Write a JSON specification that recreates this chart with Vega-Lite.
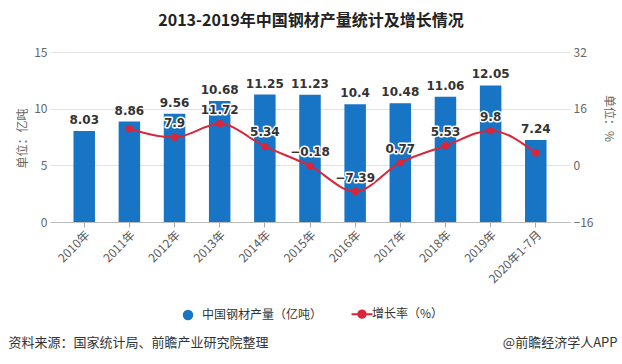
{
  "$schema": "https://vega.github.io/schema/vega-lite/v6.json",
  "width": 520,
  "height": 170,
  "autosize": "none",
  "padding": {"left": 50, "top": 52, "right": 52, "bottom": 142},
  "background": "white",
  "title": {"text": "2013-2019年中国钢材产量统计及增长情况", "fontSize": 16, "fontWeight": "bold", "font": "Noto Sans CJK SC", "color": "#222222", "anchor": "middle", "frame": "group", "offset": 17, "dx": 1},
  "data": {"values": [
    {"year": "2010年", "output": 8.03, "rate": null},
    {"year": "2011年", "output": 8.86, "rate": 10.34},
    {"year": "2012年", "output": 9.56, "rate": 7.9},
    {"year": "2013年", "output": 10.68, "rate": 11.72},
    {"year": "2014年", "output": 11.25, "rate": 5.34},
    {"year": "2015年", "output": 11.23, "rate": -0.18},
    {"year": "2016年", "output": 10.4, "rate": -7.39},
    {"year": "2017年", "output": 10.48, "rate": 0.77},
    {"year": "2018年", "output": 11.06, "rate": 5.53},
    {"year": "2019年", "output": 12.05, "rate": 9.8},
    {"year": "2020年1-7月", "output": 7.24, "rate": 3.5}
  ]},
  "layer": [
    {
      "encoding": {
        "x": {"field": "year", "type": "nominal", "sort": null,
          "scale": {"paddingInner": 0.524, "paddingOuter": 0.52},
          "axis": {"labelAngle": -45, "labelFontSize": 12, "labelColor": "#595959", "labelFont": "Noto Sans CJK SC", "ticks": true, "tickSize": 5, "tickColor": "#aaaaaa", "domainColor": "#bbbbbb", "labelPadding": 2, "grid": false,
            "title": "资料来源：国家统计局、前瞻产业研究院整理", "titleX": -42, "titleY": 120, "titleAlign": "left", "titleBaseline": "middle", "titleAngle": 0, "titleFontSize": 13, "titleFontWeight": "normal", "titleColor": "#333333", "titleFont": "Noto Sans CJK SC"}},
        "y": {"field": "output", "type": "quantitative",
          "scale": {"domain": [0, 15], "nice": false},
          "axis": {"values": [0, 5, 10, 15], "grid": true, "gridColor": "#e3e3e3", "domain": false, "ticks": false, "labelPadding": 3, "labelColor": "#666666", "labelFontSize": 12, "labelFont": "Noto Sans CJK SC",
            "title": "单位：亿吨", "titleX": -28, "titleY": 86, "titleAngle": -90, "titleAlign": "center", "titleBaseline": "middle", "titleFontSize": 12, "titleFontWeight": "normal", "titleColor": "#666666", "titleFont": "Noto Sans CJK SC"}}
      },
      "layer": [
        {
          "mark": {"type": "bar"},
          "encoding": {
            "color": {"datum": "中国钢材产量（亿吨）",
              "scale": {"domain": ["中国钢材产量（亿吨）", "增长率（%）"], "range": ["#1874C4", "#D9263A"]},
              "legend": {"orient": "none", "legendX": 132, "legendY": 256, "direction": "horizontal", "title": null, "labelFont": "Noto Sans CJK SC", "labelFontSize": 12, "labelColor": "#333333", "symbolSize": 110, "labelOffset": 8, "columnPadding": 24,
                "encode": {
                  "labels": {"update": {"dx": {"signal": "datum.value === '增长率（%）' ? -4 : 0"}}},
                  "symbols": {"update": {
                  "shape": {"signal": "datum.value === '增长率（%）' ? 'M-2,0L2,0M-0.7,0A0.7,0.7,0,1,1,0.7,0A0.7,0.7,0,1,1,-0.7,0Z' : 'circle'"},
                  "fill": {"signal": "datum.value === '增长率（%）' ? '#D9263A' : '#1874C4'"},
                  "stroke": {"signal": "datum.value === '增长率（%）' ? '#D9263A' : '#1874C4'"},
                  "strokeWidth": {"signal": "datum.value === '增长率（%）' ? 2 : 0"},
                  "fillOpacity": {"value": 1},
                  "opacity": {"value": 1}
                }}}}}
          }
        },
        {
          "mark": {"type": "text", "baseline": "bottom", "dy": -4, "font": "DejaVu Sans", "fontSize": 12, "fontWeight": "bold", "fill": "#333333"},
          "encoding": {"text": {"field": "output", "type": "quantitative", "format": ".2~f"}}
        }
      ]
    },
    {
      "transform": [{"filter": "isValid(datum.rate)"}],
      "encoding": {
        "x": {"field": "year", "type": "nominal", "sort": null,
          "scale": {"paddingInner": 0.524, "paddingOuter": 0.52},
          "axis": {"orient": "top", "labels": false, "ticks": false, "domain": false, "grid": false,
            "title": "@前瞻经济学人APP", "titleX": 567, "titleY": 290, "titleAlign": "right", "titleBaseline": "middle", "titleAngle": 0, "titleFontSize": 13, "titleFontWeight": "normal", "titleColor": "#333333", "titleFont": "Noto Sans CJK SC"}},
        "y": {"field": "rate", "type": "quantitative",
          "scale": {"domain": [-16, 32], "nice": false, "zero": false},
          "axis": {"orient": "right", "values": [-16, 0, 16, 32], "grid": false, "domain": false, "ticks": false, "labelPadding": 3, "labelColor": "#666666", "labelFontSize": 12, "labelFont": "Noto Sans CJK SC",
            "title": "单位：%", "titleX": 38, "titleY": 66, "titleAngle": 90, "titleAlign": "center", "titleBaseline": "middle", "titleFontSize": 12, "titleFontWeight": "normal", "titleColor": "#666666", "titleFont": "Noto Sans CJK SC"}}
      },
      "layer": [
        {
          "mark": {"type": "line", "interpolate": "monotone", "strokeWidth": 2},
          "encoding": {
            "color": {"datum": "增长率（%）",
              "scale": {"domain": ["中国钢材产量（亿吨）", "增长率（%）"], "range": ["#1874C4", "#D9263A"]},
              "legend": {"orient": "none", "legendX": 132, "legendY": 256, "direction": "horizontal", "title": null, "labelFont": "Noto Sans CJK SC", "labelFontSize": 12, "labelColor": "#333333", "symbolSize": 110, "labelOffset": 8, "columnPadding": 24,
                "encode": {
                  "labels": {"update": {"dx": {"signal": "datum.value === '增长率（%）' ? -4 : 0"}}},
                  "symbols": {"update": {
                  "shape": {"signal": "datum.value === '增长率（%）' ? 'M-2,0L2,0M-0.7,0A0.7,0.7,0,1,1,0.7,0A0.7,0.7,0,1,1,-0.7,0Z' : 'circle'"},
                  "fill": {"signal": "datum.value === '增长率（%）' ? '#D9263A' : '#1874C4'"},
                  "stroke": {"signal": "datum.value === '增长率（%）' ? '#D9263A' : '#1874C4'"},
                  "strokeWidth": {"signal": "datum.value === '增长率（%）' ? 2 : 0"},
                  "fillOpacity": {"value": 1},
                  "opacity": {"value": 1}
                }}}}}
          }
        },
        {
          "mark": {"type": "point", "filled": true, "size": 55, "color": "#D9263A", "opacity": 1}
        },
        {
          "transform": [{"filter": "datum.year !== '2011年' && datum.year !== '2020年1-7月'"}],
          "mark": {"type": "text", "baseline": "bottom", "dy": -7, "font": "DejaVu Sans", "fontSize": 12, "fontWeight": "bold", "fill": "white", "stroke": "white", "strokeWidth": 3, "strokeJoin": "round"},
          "encoding": {"text": {"field": "rate", "type": "quantitative", "format": ".2~f"}}
        },
        {
          "transform": [{"filter": "datum.year !== '2011年' && datum.year !== '2020年1-7月'"}],
          "mark": {"type": "text", "baseline": "bottom", "dy": -7, "font": "DejaVu Sans", "fontSize": 12, "fontWeight": "bold", "fill": "#333333"},
          "encoding": {"text": {"field": "rate", "type": "quantitative", "format": ".2~f"}}
        }
      ]
    }
  ],
  "resolve": {"scale": {"y": "independent"}, "axis": {"x": "independent", "y": "independent"}},
  "config": {"view": {"stroke": null}}
}
